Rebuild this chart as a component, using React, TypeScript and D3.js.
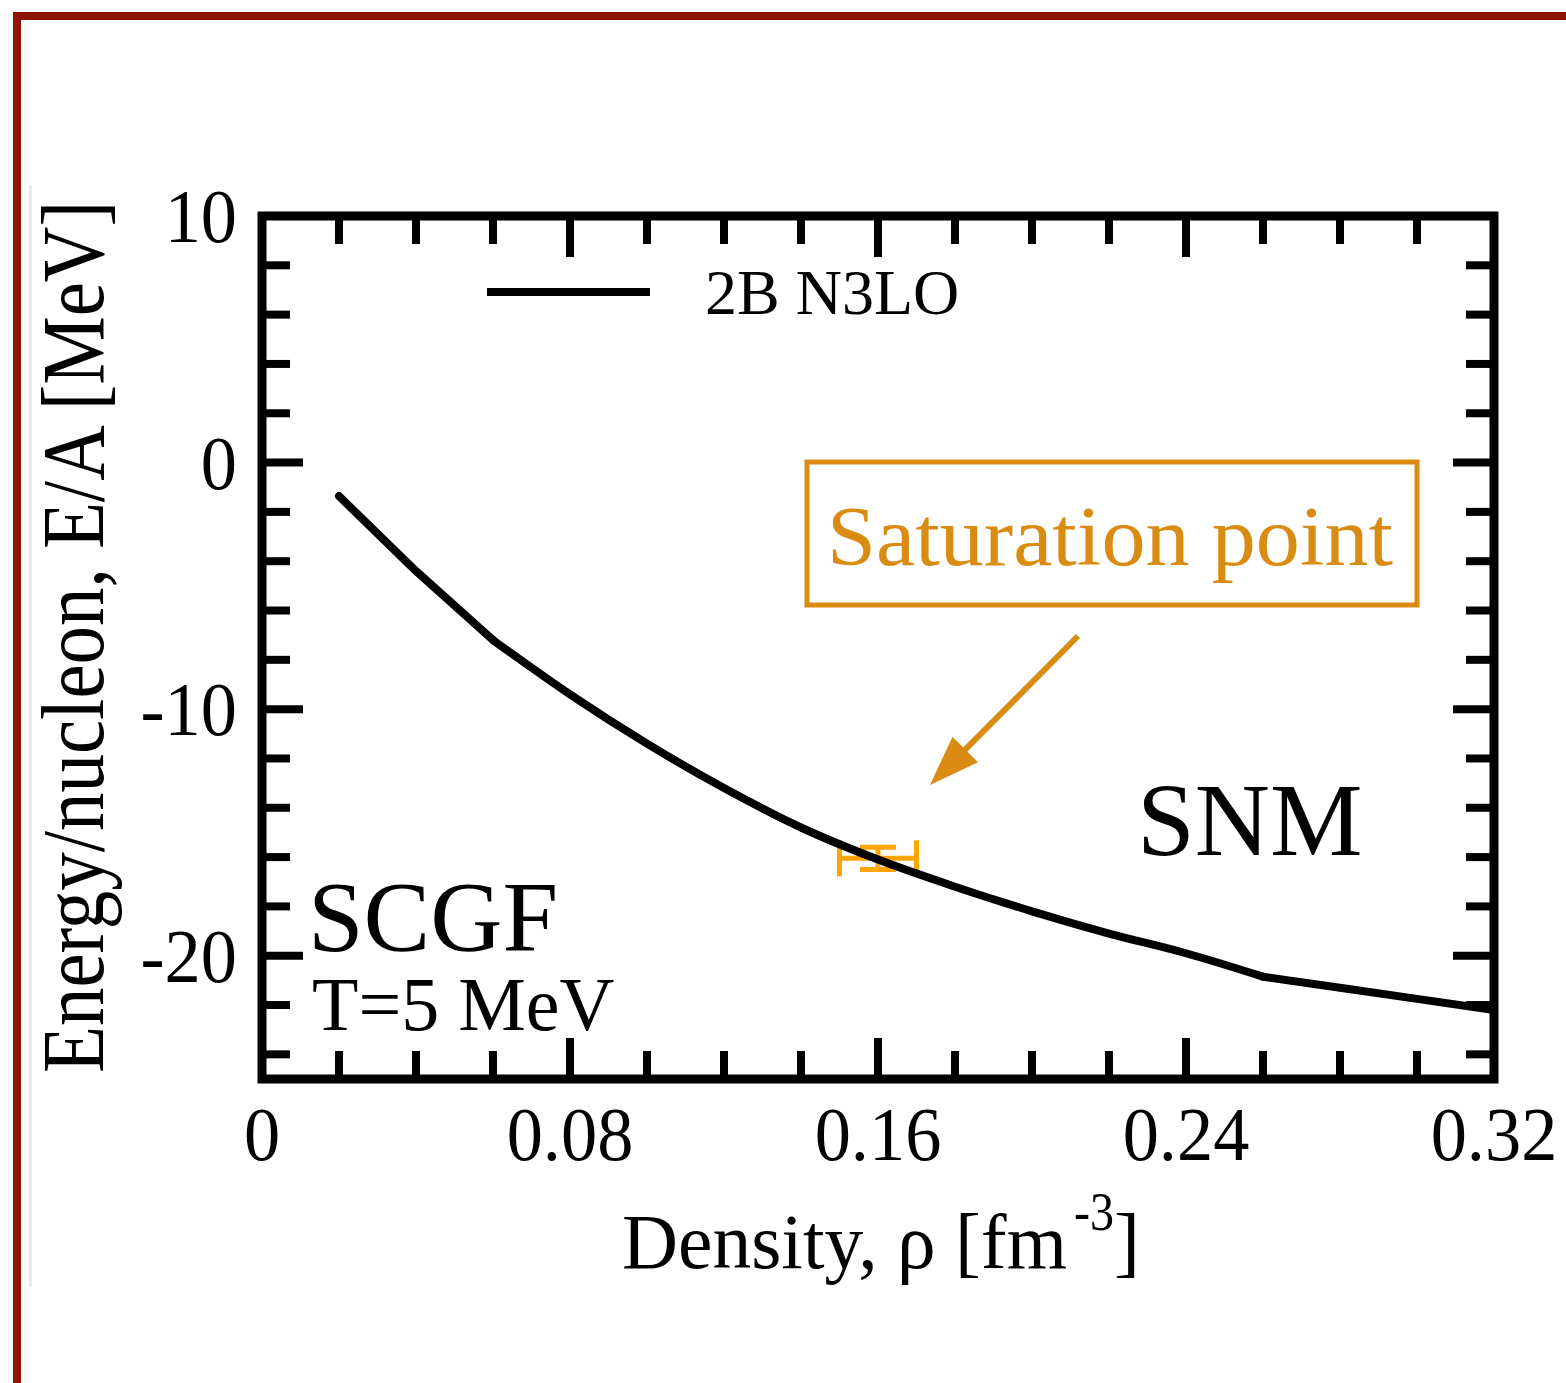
import React from "react";
import * as d3 from "d3";

// Energy per nucleon of symmetric nuclear matter, SCGF, T = 5 MeV, 2B N3LO
const densities = [0.02, 0.04, 0.06, 0.08, 0.10, 0.12, 0.14, 0.16, 0.18, 0.20, 0.22, 0.24, 0.26, 0.28, 0.30, 0.32];
const energies = [-1.36, -4.4, -7.2, -9.4, -11.4, -13.2, -14.8, -16.1, -17.2, -18.2, -19.1, -19.9, -20.85, -21.3, -21.75, -22.2];

// Empirical saturation point with its uncertainties
const satDensity = 0.16;
const satDensityErr = 0.01;
const satEnergy = -16.05;
const satEnergyErr = 0.45;

const xTickLabels = [0, 0.08, 0.16, 0.24, 0.32];
const yTickLabels = [10, 0, -10, -20];

const W = 1566;
const H = 1383;
const plot = { left: 262, right: 1494, top: 216, bottom: 1079 };

const serif = "'Liberation Serif', 'Times New Roman', Times, serif";
const orange = "#D98B12";
const barOrange = "#FFA500";

export default function App() {
  const x = d3.scaleLinear().domain([0, 0.32]).range([plot.left, plot.right]);
  const y = d3.scaleLinear().domain([-25, 10]).range([plot.bottom, plot.top]);

  const pts = densities.map((d, i) => [d, energies[i]] as [number, number]);
  const straight = d3
    .line<[number, number]>()
    .x((d) => x(d[0]))
    .y((d) => y(d[1]))
    .curve(d3.curveLinear);
  const smooth = d3
    .line<[number, number]>()
    .x((d) => x(d[0]))
    .y((d) => y(d[1]))
    .curve(d3.curveMonotoneX);
  // coarse low- and high-density legs joined by a smooth middle section
  const iA = densities.indexOf(0.06);
  const iB = densities.indexOf(0.26);
  const segments = [
    straight(pts.slice(0, iA + 1)),
    smooth(pts.slice(iA, iB + 1)),
    straight(pts.slice(iB)),
  ];

  const xMinor = d3.range(0, 0.3201, 0.02).map((v) => +v.toFixed(2));
  const yMinor = d3.range(-24, 10.01, 2);
  const isMajorX = (v: number) => Math.abs(v / 0.08 - Math.round(v / 0.08)) < 1e-6;
  const isMajorY = (v: number) => Math.abs(v % 10) < 1e-6;
  const majorLen = 41;
  const minorLen = 28;

  const fmt = (v: number) => (v === 0 ? "0" : String(v));

  // arrow pointing at the saturation point
  const a0 = [1078, 636];
  const a1 = [930, 785];
  const ang = Math.atan2(a1[1] - a0[1], a1[0] - a0[0]);
  const headLen = 50;
  const headHalf = 18;
  const bx = a1[0] - headLen * Math.cos(ang);
  const by = a1[1] - headLen * Math.sin(ang);
  const px = -Math.sin(ang);
  const py = Math.cos(ang);
  const head = `M${a1[0]},${a1[1]} L${bx + headHalf * px},${by + headHalf * py} L${bx - headHalf * px},${by - headHalf * py} Z`;

  const ex0 = x(satDensity - satDensityErr);
  const ex1 = x(satDensity + satDensityErr);
  const ey = y(satEnergy);
  const ey0 = y(satEnergy - satEnergyErr);
  const ey1 = y(satEnergy + satEnergyErr);
  const exc = x(satDensity);

  return (
    <div style={{ position: "absolute", left: 0, top: 0, width: W, height: H, background: "#fff" }}>
      <svg width={W} height={H} viewBox={`0 0 ${W} ${H}`} style={{ display: "block" }}>
        <rect x={0} y={0} width={W} height={H} fill="#fff" />
        {/* outer frame */}
        <path d={`M17,${H} L17,16 L${W},16`} fill="none" stroke="#8E1300" strokeWidth={8} />
        <line x1={30.5} y1={185} x2={30.5} y2={1287} stroke="#EEE8E0" strokeWidth={3} />

        {/* saturation point error bars */}
        <g stroke={barOrange} strokeWidth={5} fill="none">
          <line x1={ex0} y1={ey} x2={ex1} y2={ey} />
          <line x1={ex0} y1={ey - 18} x2={ex0} y2={ey + 18} />
          <line x1={ex1} y1={ey - 18} x2={ex1} y2={ey + 18} />
          <line x1={exc} y1={ey0} x2={exc} y2={ey1} />
          <line x1={exc - 18} y1={ey0} x2={exc + 18} y2={ey0} />
          <line x1={exc - 18} y1={ey1} x2={exc + 18} y2={ey1} />
        </g>

        {/* E/A curve */}
        {segments.map((d, i) => (
          <path key={`seg${i}`} d={d || ""} fill="none" stroke="#000" strokeWidth={8} strokeLinejoin="round" strokeLinecap="round" />
        ))}

        {/* ticks */}
        <g stroke="#000" strokeWidth={8}>
          {xMinor.map((v) => {
            const len = isMajorX(v) ? majorLen : minorLen;
            if (v === 0 || v === 0.32) return null;
            return (
              <g key={`xt${v}`}>
                <line x1={x(v)} y1={plot.bottom} x2={x(v)} y2={plot.bottom - len} />
                <line x1={x(v)} y1={plot.top} x2={x(v)} y2={plot.top + len} />
              </g>
            );
          })}
          {yMinor.map((v) => {
            const len = isMajorY(v) ? majorLen : minorLen;
            if (v === 10) return null;
            return (
              <g key={`yt${v}`}>
                <line x1={plot.left} y1={y(v)} x2={plot.left + len} y2={y(v)} />
                <line x1={plot.right} y1={y(v)} x2={plot.right - len} y2={y(v)} />
              </g>
            );
          })}
        </g>

        {/* plot frame */}
        <rect
          x={plot.left}
          y={plot.top}
          width={plot.right - plot.left}
          height={plot.bottom - plot.top}
          fill="none"
          stroke="#000"
          strokeWidth={9}
        />

        {/* tick labels */}
        <g fontFamily={serif} fontSize={77} fill="#000">
          {xTickLabels.map((v) => (
            <g key={`xl${v}`} transform={`translate(${x(v)},1160) scale(0.94,1)`}>
              <text x={0} y={0} textAnchor="middle">
                {fmt(v)}
              </text>
            </g>
          ))}
          {yTickLabels.map((v) => (
            <g key={`yl${v}`} transform={`translate(237,${y(v) + 26}) scale(0.94,1)`}>
              <text x={0} y={0} textAnchor="end">
                {fmt(v)}
              </text>
            </g>
          ))}
        </g>

        {/* axis titles */}
        <g fontFamily={serif} fill="#000">
          <text x={622} y={1268} fontSize={78} textLength={445} lengthAdjust="spacingAndGlyphs">
            Density, ρ [fm
          </text>
          <text x={1074} y={1230} fontSize={54} textLength={40} lengthAdjust="spacingAndGlyphs">
            -3
          </text>
          <text x={1114} y={1268} fontSize={78}>
            ]
          </text>
          <text
            transform="translate(103,637) rotate(-90)"
            textAnchor="middle"
            fontSize={88}
            textLength={872}
            lengthAdjust="spacingAndGlyphs"
          >
            Energy/nucleon, E/A [MeV]
          </text>
        </g>

        {/* legend */}
        <line x1={487} y1={292} x2={650} y2={292} stroke="#000" strokeWidth={8} />
        <text x={705} y={314} fontFamily={serif} fontSize={64} fill="#000">
          2B N3LO
        </text>

        {/* annotations */}
        <text x={308} y={950} fontFamily={serif} fontSize={100} fill="#000">SCGF</text>
        <text x={312} y={1030} fontFamily={serif} fontSize={76} fill="#000">T=5 MeV</text>
        <text x={1137} y={855} fontFamily={serif} fontSize={104} fill="#000">SNM</text>

        <rect x={807} y={462} width={610} height={143} fill="none" stroke={orange} strokeWidth={5} />
        <text
          x={827}
          y={565}
          fontFamily={serif}
          fontSize={84}
          fill={orange}
          textLength={566}
          lengthAdjust="spacingAndGlyphs"
        >
          Saturation point
        </text>
        <line
          x1={a0[0]}
          y1={a0[1]}
          x2={bx + 4 * Math.cos(ang)}
          y2={by + 4 * Math.sin(ang)}
          stroke={orange}
          strokeWidth={6}
        />
        <path d={head} fill={orange} />
      </svg>
    </div>
  );
}
